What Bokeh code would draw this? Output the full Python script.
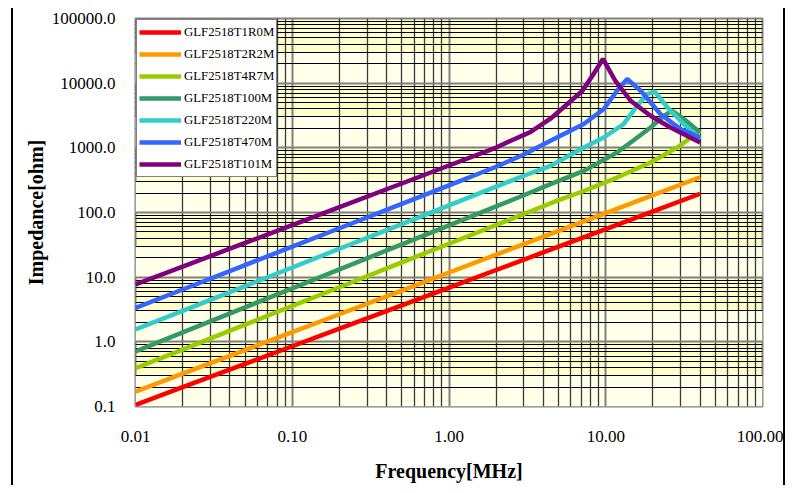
from bokeh.plotting import figure
from bokeh.models import FixedTicker, Range1d
from bokeh.embed import file_html
from bokeh.resources import INLINE

# ---------------- data ----------------
series_names = ["GLF2518T1R0M", "GLF2518T2R2M", "GLF2518T4R7M", "GLF2518T100M",
                "GLF2518T220M", "GLF2518T470M", "GLF2518T101M"]
series_colors = ["#FF0000", "#FF9900", "#99CC00", "#339966", "#33CCCC", "#3366FF", "#800080"]

f_1R0 = [0.01, 0.02, 0.05, 0.1, 0.2, 0.5, 1, 2, 5, 10, 20, 40]
z_1R0 = [0.106, 0.199, 0.456, 0.854, 1.60, 3.67, 6.88, 12.9, 29.6, 55.4, 104, 195]

f_2R2 = [0.01, 0.02, 0.05, 0.1, 0.2, 0.5, 1, 2, 5, 10, 20, 40]
z_2R2 = [0.17, 0.322, 0.747, 1.41, 2.67, 6.2, 11.8, 22.3, 51.9, 98.1, 186, 351]

f_4R7 = [0.01, 0.02, 0.05, 0.1, 0.2, 0.5, 1, 2, 3, 5, 7.25, 11.8, 19.3, 28.6, 40]
z_4R7 = [0.39, 0.76, 1.84, 3.58, 6.98, 16.9, 32.9, 64.1, 94.8, 155, 215, 347, 592, 1010, 1835]

f_100 = [0.01, 0.02, 0.05, 0.1, 0.2, 0.5, 1, 2, 3, 4.44, 7.25, 11.8, 15, 19.3, 23.5, 26.5, 31.5, 40]
z_100 = [0.71, 1.40, 3.41, 6.70, 13.2, 32.2, 63.3, 124, 185, 274, 440, 846, 1300, 2065, 3130, 3750, 2785, 1725]

f_220 = [0.01, 0.02, 0.05, 0.1, 0.2, 0.5, 1, 2, 3, 4.44, 7.25, 9.72, 13, 15.9, 18.4, 20.5, 24.7, 31.5, 40]
z_220 = [1.55, 3.02, 7.27, 14.1, 27.5, 66.3, 129, 251, 370, 526, 1010, 1445, 2330, 4480, 6800, 7460, 4220, 2330, 1365]

f_470 = [0.01, 0.02, 0.05, 0.1, 0.2, 0.5, 1, 2, 3, 4.44, 7.25, 9.72, 11.8, 13.7, 16.7, 22.3, 30, 40]
z_470 = [3.34, 6.44, 15.4, 29.6, 57.1, 136, 263, 510, 790, 1285, 2330, 3980, 7650, 11600, 7650, 3330, 1950, 1445]

f_101 = [0.01, 0.02, 0.05, 0.1, 0.2, 0.5, 1, 2, 2.5, 3.3, 4.44, 5.6, 7.1, 8.3, 9.6, 11.5, 14.4, 19.3, 25.9, 40]
z_101 = [7.7, 14.6, 33.8, 64, 121, 281, 533, 1010, 1300, 1750, 2820, 4600, 7650, 13500, 23700, 10900, 5350, 3130, 2065, 1210]

series_f = [f_1R0, f_2R2, f_4R7, f_100, f_220, f_470, f_101]
series_z = [z_1R0, z_2R2, z_4R7, z_100, z_220, z_470, z_101]

x_major = [0.01, 0.1, 1, 10, 100]
x_labels = ["0.01", "0.10", "1.00", "10.00", "100.00"]
y_major = [0.1, 1, 10, 100, 1000, 10000, 100000]
y_labels = ["0.1", "1.0", "10.0", "100.0", "1000.0", "10000.0", "100000.0"]

band_bottom = [0.1, 1, 10, 100, 1000, 10000]
band_top = [0.3, 3, 30, 300, 3000, 30000]

x_minor = [k * d for d in [0.01, 0.1, 1, 10] for k in range(2, 10)]
y_minor = [k * d for d in [0.1, 1, 10, 100, 1000, 10000] for k in range(2, 10)]

# ---------------- figure ----------------
SERIF = "Liberation Serif"

p = figure(width=774, height=477, x_axis_type="log", y_axis_type="log",
           x_range=Range1d(0.01, 100), y_range=Range1d(0.1, 100000),
           output_backend="svg", toolbar_location=None,
           min_border_left=122, min_border_right=25, min_border_top=10, min_border_bottom=79)

p.margin = (8, 0, 0, 11)
p.styles = {"border-left": "2px solid black", "border-right": "2px solid black"}

p.background_fill_color = "#FFFFCC"
p.border_fill_color = "white"
p.outline_line_color = "#808080"
p.outline_line_width = 2

# subtle lighter bands in each decade
p.quad(left=0.01, right=100, bottom=band_bottom, top=band_top,
       fill_color="#FFFFEA", line_color=None, level="image")

xt = FixedTicker(ticks=x_major, minor_ticks=x_minor)
yt = FixedTicker(ticks=y_major, minor_ticks=y_minor)
p.xaxis.ticker = xt
p.xgrid.ticker = xt
p.yaxis.ticker = yt
p.ygrid.ticker = yt

p.xaxis.major_label_overrides = {t: l for t, l in zip(x_major, x_labels)}
p.yaxis.major_label_overrides = {t: l for t, l in zip(y_major, y_labels)}

p.xgrid.grid_line_color = "#808080"
p.xgrid.grid_line_width = 2
p.xgrid.minor_grid_line_color = "#3a3a3a"
p.xgrid.minor_grid_line_width = 1.3
p.ygrid.grid_line_color = "#808080"
p.ygrid.grid_line_width = 2
p.ygrid.minor_grid_line_color = "black"
p.ygrid.minor_grid_line_width = 1

for ax in (p.xaxis, p.yaxis):
    ax.axis_line_color = None
    ax.major_tick_line_color = None
    ax.minor_tick_line_color = None
    ax.major_label_text_font = SERIF
    ax.major_label_text_font_size = "17px"
    ax.major_label_text_color = "black"
    ax.axis_label_text_font = SERIF
    ax.axis_label_text_font_style = "bold"
    ax.axis_label_text_font_size = "20px"
    ax.axis_label_text_color = "black"

p.xaxis.axis_label = "Frequency[MHz]"
p.yaxis.axis_label = "Impedance[ohm]"
p.xaxis.major_label_standoff = 18
p.xaxis.axis_label_standoff = 15
p.yaxis.major_label_standoff = 14
p.yaxis.axis_label_standoff = 2

for name, col, fx, zy in zip(series_names, series_colors, series_f, series_z):
    p.line(fx, zy, line_color=col, line_width=4.5, legend_label=name)

lg = p.legend[0]
lg.location = "top_left"
lg.margin = 1
lg.padding = 2
lg.spacing = 2
lg.label_height = 20
lg.glyph_height = 20
lg.glyph_width = 42
lg.label_standoff = 3
lg.label_text_font = SERIF
lg.label_text_font_size = "12.8px"
lg.label_text_color = "black"
lg.border_line_color = "black"
lg.border_line_width = 1
lg.background_fill_color = "white"
lg.background_fill_alpha = 1

open("out.html", "w").write(file_html(p, INLINE))
